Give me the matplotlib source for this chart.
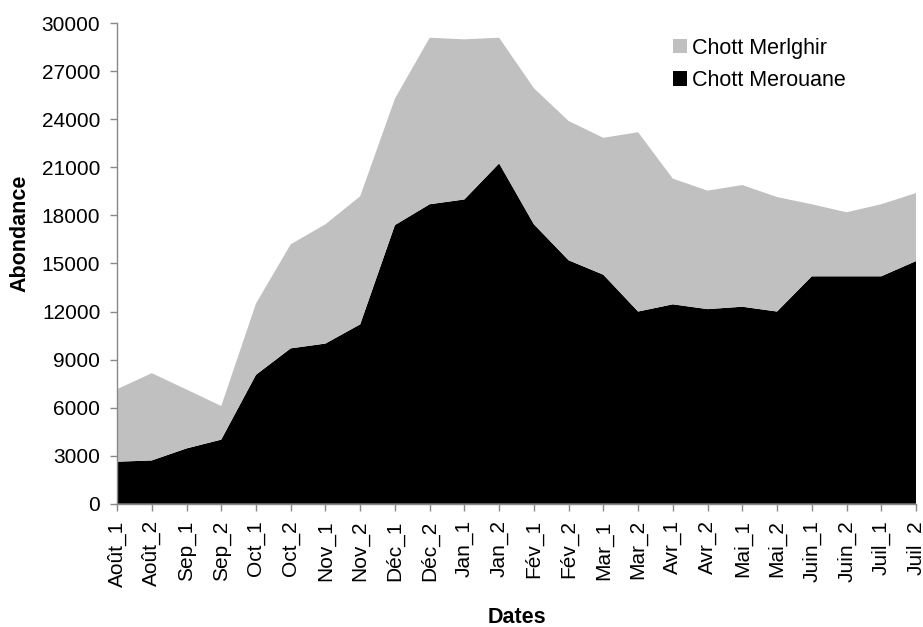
import matplotlib.pyplot as plt

dates = ["Août_1", "Août_2", "Sep_1", "Sep_2", "Oct_1", "Oct_2", "Nov_1", "Nov_2",
         "Déc_1", "Déc_2", "Jan_1", "Jan_2", "Fév_1", "Fév_2", "Mar_1", "Mar_2",
         "Avr_1", "Avr_2", "Mai_1", "Mai_2", "Juin_1", "Juin_2", "Juil_1", "Juil_2"]

merouane = [2620, 2700, 3450, 4000, 8050, 9700, 10000, 11200,
            17400, 18700, 19000, 21250, 17450, 15200, 14300, 12000,
            12450, 12150, 12300, 12000, 14200, 14200, 14200, 15150]
total = [7150, 8150, 7130, 6100, 12500, 16200, 17450, 19200,
         25300, 29100, 29000, 29100, 25950, 23900, 22850, 23200,
         20300, 19550, 19900, 19150, 18700, 18200, 18700, 19400]
merlghir = [t - m for t, m in zip(total, merouane)]

plt.rcParams['font.family'] = ['Liberation Sans', 'DejaVu Sans']

fig = plt.figure(figsize=(9.23, 6.27), dpi=100)
ax = fig.add_axes([0.1268, 0.1967, 0.8656, 0.7661])

x = list(range(len(dates)))
polys = ax.stackplot(x, merouane, merlghir, colors=["black", "#c0c0c0"],
                     labels=["Chott Merouane", "Chott Merlghir"], linewidth=0)

ax.set_xlim(0, len(dates) - 1)
ax.set_ylim(0, 30000)
ax.set_yticks(range(0, 30001, 3000))
ax.set_xticks(x)
ax.set_xticklabels(dates, rotation=90)

for s in ["top", "right"]:
    ax.spines[s].set_visible(False)
for s in ["left", "bottom"]:
    ax.spines[s].set_color("#888888")
    ax.spines[s].set_linewidth(1.0)
ax.tick_params(axis="both", colors="#888888", labelcolor="black", labelsize=15,
               length=5, width=1.0, pad=7)

ax.set_xlabel("Dates", fontsize=15.5, fontweight="bold")
ax.set_ylabel("Abondance", fontsize=15.5, fontweight="bold")
ax.xaxis.set_label_coords(0.5, -0.216)
ax.yaxis.set_label_coords(-0.108, 0.5635)

h, l = ax.get_legend_handles_labels()
ax.legend(h[::-1], l[::-1], loc="upper left", bbox_to_anchor=(0.6818, 0.9925),
          frameon=False, fontsize=15.5, borderpad=0, handlelength=0.67,
          handleheight=0.67, handletextpad=0.25, labelspacing=0.54)

plt.savefig("out.png", dpi=100)
